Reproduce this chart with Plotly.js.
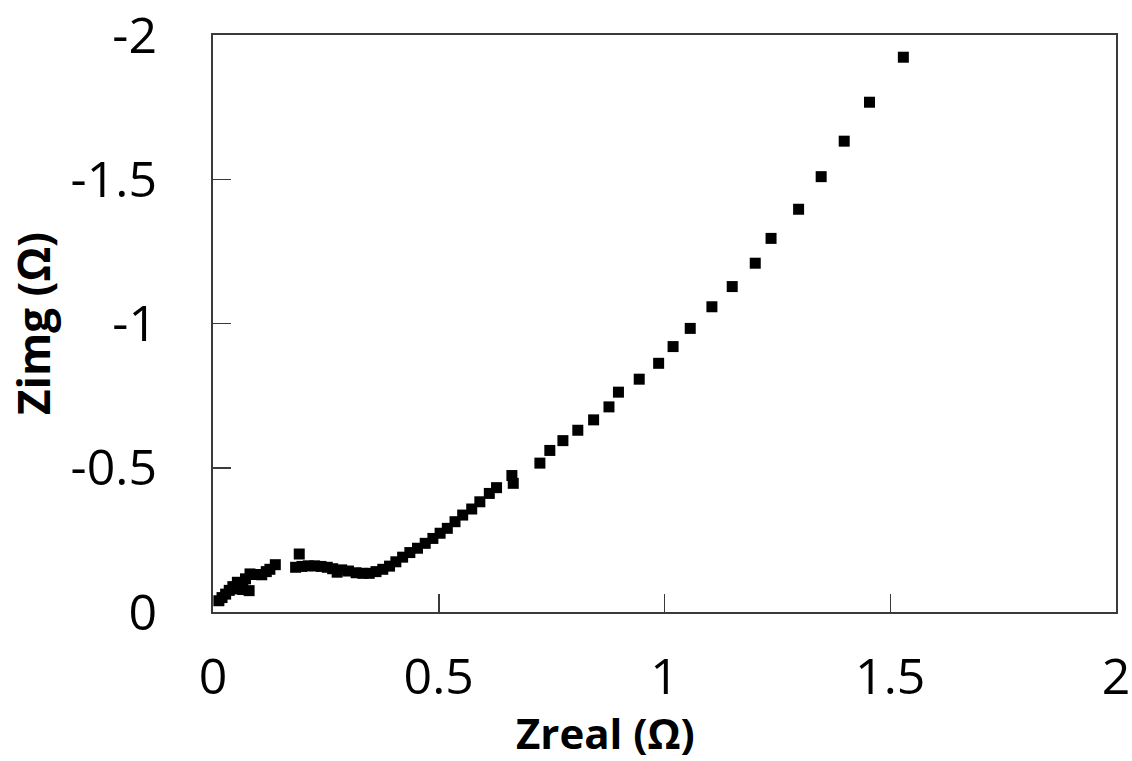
<!DOCTYPE html>
<html>
<head>
<meta charset="utf-8">
<script src="https://cdn.plot.ly/plotly-3.0.1.min.js"></script>
<style>html,body{margin:0;padding:0;background:#fff;}#chart{width:1132px;height:761px;}</style>
</head>
<body>
<div id="chart"></div>
<script>
// Nyquist data (Zreal, Zimg in ohm)
var zReal = [0.013,0.020,0.028,0.036,0.044,0.054,0.058,0.066,0.072,0.080,0.082,0.095,0.108,0.118,0.126,0.138,
  0.183,0.191,0.197,0.211,0.225,0.239,0.253,0.265,0.275,0.285,0.300,0.317,0.332,0.346,0.361,0.376,0.391,0.405,
  0.420,0.436,0.453,0.470,0.487,0.503,0.519,0.536,0.553,0.573,0.591,0.612,0.628,0.662,0.665,0.724,0.746,0.775,
  0.808,0.843,0.877,0.898,0.944,0.987,1.019,1.057,1.105,1.150,1.201,1.236,1.297,1.347,1.398,1.454,1.529];
var zImg = [-0.039,-0.050,-0.062,-0.075,-0.088,-0.103,-0.080,-0.078,-0.115,-0.074,-0.132,-0.130,-0.129,-0.140,-0.148,-0.164,
  -0.155,-0.201,-0.158,-0.160,-0.160,-0.158,-0.155,-0.150,-0.138,-0.146,-0.142,-0.136,-0.134,-0.134,-0.140,-0.148,-0.159,-0.174,
  -0.190,-0.206,-0.221,-0.238,-0.255,-0.273,-0.290,-0.313,-0.336,-0.357,-0.382,-0.411,-0.431,-0.473,-0.446,-0.516,-0.560,-0.594,
  -0.630,-0.666,-0.711,-0.762,-0.807,-0.862,-0.920,-0.983,-1.058,-1.128,-1.209,-1.295,-1.396,-1.509,-1.632,-1.767,-1.923];
var xTicks = [0, 0.5, 1, 1.5, 2];
var xTickText = ['0', '0.5', '1', '1.5', '2'];
var yTicks = [0, -0.5, -1, -1.5, -2];
var yTickText = ['0', '-0.5', '-1', '-1.5', '-2'];
var xTitle = 'Zreal (Ω)';
var yTitle = 'Zimg (Ω)';

var trace = {
  x: zReal, y: zImg, type: 'scatter', mode: 'markers',
  marker: {symbol: 'square', size: 11, color: '#000000', line: {width: 0}},
  hoverinfo: 'x+y'
};
var axisCommon = {
  showgrid: false, zeroline: false, showline: true, linecolor: '#3a3a3a', linewidth: 2,
  mirror: true, ticks: 'inside', ticklen: 18, tickwidth: 1.5, tickcolor: '#3a3a3a',
  ticklabeloverflow: 'allow',
  tickfont: {family: 'Open Sans, sans-serif', size: 50, color: '#000'}
};
var layout = {
  width: 1132, height: 761,
  margin: {l: 213, r: 16, t: 35, b: 149, pad: 0},
  paper_bgcolor: '#fff', plot_bgcolor: '#fff',
  showlegend: false,
  xaxis: Object.assign({}, axisCommon, {
    range: [0, 2], tickmode: 'array', tickvals: xTicks, ticktext: xTickText,
    ticklabelstandoff: 20
  }),
  yaxis: Object.assign({}, axisCommon, {
    range: [0, -2], tickmode: 'array', tickvals: yTicks, ticktext: yTickText,
    ticklabelstandoff: 44
  }),
  annotations: [
    {text: '<b>' + xTitle + '</b>', xref: 'paper', yref: 'paper', x: 0.435, y: -0.209,
     xanchor: 'center', yanchor: 'middle', showarrow: false,
     font: {family: 'Open Sans, sans-serif', size: 42, color: '#000'}},
    {text: '<b>' + yTitle + '</b>', xref: 'paper', yref: 'paper', x: -0.2, y: 0.5,
     xanchor: 'center', yanchor: 'middle', textangle: -90, showarrow: false,
     font: {family: 'Open Sans, sans-serif', size: 44, color: '#000'}}
  ]
};
Plotly.newPlot('chart', [trace], layout, {displayModeBar: false, staticPlot: true});
</script>
</body>
</html>
